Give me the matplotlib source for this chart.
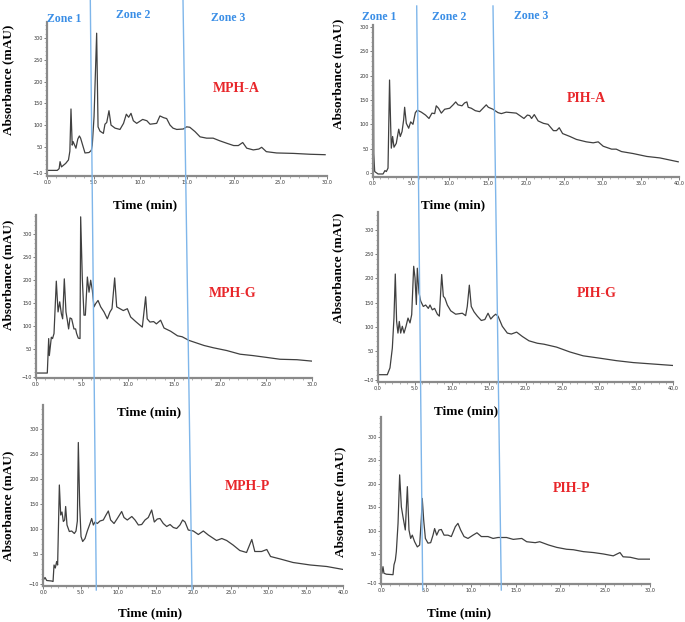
import matplotlib.pyplot as plt
from matplotlib.lines import Line2D
from matplotlib.ticker import MultipleLocator

# chromatogram traces, (time min, absorbance mAU)
mph_a = [(0, -4), (1.1, -4), (1.3, 0), (1.4, 16), (1.55, 4), (2.0, 12), (2.3, 20),
         (2.45, 40), (2.57, 137), (2.7, 54), (2.8, 62), (3.1, 47), (3.3, 68), (3.47, 75),
         (3.6, 70), (4.07, 36), (4.5, 37), (4.75, 42), (4.85, 54), (5.04, 119), (5.32, 311),
         (5.47, 96), (5.68, 86), (6.04, 81), (6.21, 102), (6.4, 106), (6.64, 133), (6.86, 100),
         (7.29, 93), (7.82, 90), (8.2, 104), (8.5, 125), (8.75, 118), (9.0, 127), (9.25, 110),
         (9.61, 104), (10.25, 113), (10.7, 110), (11.04, 102), (11.75, 104), (12.1, 121),
         (12.5, 117), (12.82, 115), (13.18, 100), (13.5, 93), (13.9, 90), (14.6, 91),
         (14.96, 96), (15.3, 95), (15.86, 85), (16.4, 73), (17.1, 70), (17.8, 70), (18.5, 64),
         (19.3, 58), (20.0, 53), (20.5, 53), (20.97, 60), (21.4, 47), (22.1, 43), (22.7, 45),
         (23.0, 49), (23.5, 39), (24.6, 36), (26.4, 35), (28.2, 33), (29.8, 32)]

pih_a = [(0.0, 2), (0.08, 300), (0.14, 40), (0.2, 20), (0.26, 3), (0.7, -2), (1.35, -2),
         (1.6, 5), (1.78, 3), (2.0, 10), (2.2, 191), (2.35, 95), (2.43, 51), (2.6, 75),
         (2.78, 53), (3.08, 61), (3.4, 90), (3.6, 75), (3.83, 85), (4.04, 109), (4.17, 135),
         (4.39, 102), (4.7, 92), (4.96, 105), (5.26, 100), (5.57, 124), (5.83, 129),
         (6.35, 125), (6.9, 119), (7.35, 112), (7.74, 123), (8.09, 122), (8.3, 138), (8.6, 133),
         (8.96, 123), (9.4, 131), (10.05, 133), (10.5, 140), (10.84, 146), (11.14, 140),
         (11.66, 138), (12.0, 144), (12.3, 146), (12.47, 135), (12.88, 133), (13.4, 128),
         (13.97, 126), (14.4, 133), (14.83, 140), (15.1, 135), (15.7, 131), (16.36, 124),
         (16.8, 122), (17.44, 125), (18.1, 124), (18.75, 123), (19.3, 117), (19.75, 112),
         (20.2, 119), (20.5, 118), (20.75, 112), (21.1, 120), (21.6, 107), (22.3, 102),
         (22.9, 100), (23.6, 87), (24.0, 87), (24.36, 93), (24.8, 81), (25.76, 75), (26.6, 69),
         (27.9, 64), (28.8, 62), (29.45, 64), (30.1, 55), (31.2, 49), (31.8, 49), (32.5, 44),
         (34.0, 40), (35.8, 34), (37.5, 31), (39.9, 23)]

mph_g = [(0, -2), (1.23, -2), (1.38, 73), (1.45, 36), (1.67, 76), (1.8, 73), (1.96, 84),
         (2.21, 198), (2.4, 131), (2.58, 153), (2.76, 127), (2.9, 116), (3.08, 203),
         (3.26, 131), (3.41, 113), (3.55, 94), (3.7, 118), (3.88, 116), (4.13, 94), (4.31, 94),
         (4.42, 84), (4.6, 74), (4.79, 73), (4.86, 338), (5.04, 203), (5.22, 124), (5.37, 124),
         (5.59, 207), (5.77, 174), (5.95, 200), (6.13, 178), (6.31, 142), (6.49, 149),
         (6.75, 156), (7.04, 142), (7.4, 131), (7.76, 116), (8.05, 131), (8.27, 138),
         (8.56, 205), (8.78, 142), (9.14, 138), (9.5, 134), (9.94, 138), (10.3, 120),
         (10.85, 110), (11.32, 102), (11.57, 98), (11.75, 131), (11.93, 164), (12.1, 116),
         (12.4, 109), (12.8, 110), (13.1, 105), (13.56, 113), (13.93, 96), (14.65, 89),
         (15.4, 79), (15.9, 77), (16.65, 69), (18.28, 58), (19.3, 53), (20.75, 47), (22.2, 39),
         (23.6, 36), (25.1, 32), (26.55, 28), (28.4, 27), (30.0, 24)]

pih_g = [(0, 1), (1.3, 1), (1.66, 15), (1.98, 56), (2.2, 118), (2.38, 209), (2.56, 111),
         (2.74, 87), (2.92, 111), (3.11, 87), (3.33, 101), (3.56, 87), (3.83, 101), (4.1, 118),
         (4.37, 108), (4.6, 125), (4.87, 225), (5.05, 201), (5.23, 146), (5.36, 221),
         (5.59, 170), (5.82, 153), (6.17, 142), (6.49, 145), (6.85, 138), (7.08, 145),
         (7.39, 135), (7.7, 138), (8.07, 126), (8.34, 122), (8.66, 208), (8.88, 163),
         (9.1, 159), (9.42, 145), (9.88, 133), (10.55, 126), (11.45, 128), (11.9, 123),
         (12.12, 142), (12.4, 186), (12.66, 142), (13.03, 131), (13.48, 122), (14.02, 113),
         (14.5, 115), (14.93, 128), (15.3, 116), (15.65, 122), (15.97, 126), (16.28, 122),
         (16.86, 101), (17.54, 87), (18.08, 85), (18.8, 89), (19.57, 80), (20.47, 71),
         (21.6, 66), (22.5, 64), (24.2, 58), (26.0, 48), (27.8, 40), (30.1, 35), (32.3, 30),
         (34.6, 26), (37.3, 23), (40.0, 20)]

mph_p = [(0, -2), (0.23, 3), (0.45, -3), (1.1, -4), (1.3, -5), (1.43, 28), (1.6, 22),
         (1.78, 35), (1.91, 28), (2.14, 188), (2.32, 128), (2.49, 134), (2.67, 115),
         (2.85, 118), (2.98, 145), (3.16, 108), (3.47, 95), (3.78, 96), (4.14, 91), (4.36, 96),
         (4.54, 116), (4.67, 273), (4.85, 148), (5.03, 85), (5.25, 75), (5.56, 81), (5.87, 96),
         (6.23, 111), (6.45, 121), (6.67, 108), (6.9, 114), (7.2, 111), (7.56, 116), (8.0, 118),
         (8.36, 128), (8.67, 136), (8.98, 118), (9.43, 111), (9.87, 121), (10.45, 135),
         (10.76, 123), (11.2, 118), (11.8, 125), (12.23, 118), (12.68, 108), (13.12, 109),
         (13.56, 118), (14.0, 123), (14.45, 138), (14.8, 114), (15.2, 120), (15.56, 121),
         (16.0, 111), (16.45, 105), (16.9, 109), (17.34, 103), (17.78, 101), (18.22, 108),
         (18.58, 118), (18.9, 114), (19.33, 98), (20.0, 96), (20.67, 89), (21.34, 96),
         (22.0, 88), (23.1, 77), (23.8, 81), (24.45, 77), (25.3, 68), (26.2, 57), (27.1, 53),
         (27.8, 79), (28.2, 55), (29.1, 55), (29.8, 59), (30.3, 45), (31.6, 40), (33.3, 33),
         (35.6, 28), (37.8, 25), (40.0, 19)]

pih_p = [(0.0, 12), (0.11, 10), (0.22, 24), (0.33, 10), (0.6, 8), (1.34, 7), (1.45, 28),
         (1.6, 38), (1.71, 56), (1.9, 116), (2.08, 219), (2.27, 151), (2.45, 130), (2.71, 102),
         (2.94, 194), (3.12, 102), (3.31, 84), (3.49, 91), (3.75, 77), (4.05, 66), (4.31, 70),
         (4.5, 127), (4.6, 169), (4.76, 123), (4.95, 84), (5.24, 74), (5.54, 75), (5.8, 91),
         (5.98, 105), (6.21, 91), (6.47, 102), (6.73, 103), (7.03, 91), (7.47, 91), (7.84, 88),
         (8.29, 109), (8.58, 116), (8.88, 102), (9.26, 88), (9.7, 84), (10.26, 91), (10.7, 96),
         (11.19, 88), (11.93, 88), (12.5, 84), (13.05, 86), (14.0, 86), (14.75, 82),
         (15.7, 84), (16.25, 77), (17.2, 75), (17.7, 77), (18.7, 70), (19.6, 65), (20.7, 61),
         (21.45, 60), (22.56, 56), (23.7, 54), (24.8, 51), (25.9, 47), (26.65, 54), (27.0, 45),
         (27.8, 44), (28.7, 40), (30.0, 40)]

sample_names = ["MPH-A", "PIH-A", "MPH-G", "PIH-G", "MPH-P", "PIH-P"]
zone_names = ["Zone 1", "Zone 2", "Zone 3"]
yticks_std = [-10, 50, 100, 150, 200, 250, 300]
yticks_zero = [0, 50, 100, 150, 200, 250, 300]

W, H = 685, 622
SERIF = "Liberation Serif"
fig = plt.figure(figsize=(W / 100, H / 100), dpi=100)


def fx(px):
    return px / W


def fy(py):
    return 1 - py / H


def panel(data, box, xmax, ylim, yticks, sep):
    l, r, t, b = box
    ax = fig.add_axes([fx(l), fy(b), (r - l) / W, (b - t) / H])
    ax.set_facecolor("none")
    ax.plot([p[0] for p in data], [p[1] for p in data], color="#404040", lw=0.9)
    ax.set_xlim(0, xmax)
    ax.set_ylim(*ylim)
    xt = list(range(0, xmax + 1, 5))
    ax.set_xticks(xt)
    ax.set_xticklabels([f"{x:.1f}".replace(".", sep) for x in xt])
    ax.set_yticks(yticks)
    ax.xaxis.set_minor_locator(MultipleLocator(1))
    ax.yaxis.set_minor_locator(MultipleLocator(10))
    for s in ["top", "right"]:
        ax.spines[s].set_visible(False)
    for s in ["left", "bottom"]:
        ax.spines[s].set_color("#8a8a8a")
        ax.spines[s].set_linewidth(1.6)
    ax.tick_params(which="major", length=2, width=0.6, color="#666666",
                   labelsize=3.5, pad=1, labelcolor="#333333")
    ax.tick_params(which="minor", length=1.2, width=0.4, color="#777777")
    return ax


# panels: data, pixel box (left, right, top, bottom), xmax, ylim, yticks, decimal sign
panel(mph_a, (47, 327, 22, 176), 30, (-16.9, 336.7), yticks_std, ".")
panel(pih_a, (372.7, 679, 25, 177), 40, (-8.2, 304), yticks_zero, ",")
panel(mph_g, (36, 311.7, 215, 378), 30, (-12.8, 342), yticks_std, ".")
panel(pih_g, (377.7, 673.3, 211.7, 382), 40, (-14.1, 337.8), yticks_std, ",")
panel(mph_p, (43.3, 343.3, 405, 586), 40, (-14, 348), yticks_std, ",")
panel(pih_p, (381, 650, 417, 584), 30, (-12.8, 342), yticks_std, ",")

# zone separators crossing the whole column
zone_lines = [((90.3, 0), (96.3, 590)), ((183, 0), (192, 590)),
              ((416.7, 6), (422.7, 590)), ((493, 6), (501.3, 590))]
for (x0, y0), (x1, y1) in zone_lines:
    fig.lines.append(Line2D([fx(x0), fx(x1)], [fy(y0), fy(y1)], transform=fig.transFigure,
                            color="#7fb6ea", lw=1.0, zorder=5))

zone_pos = [(64, 19), (133, 15), (228, 18), (379, 17), (449, 17), (531, 16)]
for i, (x, y) in enumerate(zone_pos):
    fig.text(fx(x), fy(y), zone_names[i % 3], ha="center", va="center", color="#3a8ee6",
             fontsize=8.5, fontweight="bold", family=SERIF, zorder=6)

name_pos = [(236, 89), (586, 99), (233, 294), (597, 294), (247, 487), (572, 489)]
for name, (x, y) in zip(sample_names, name_pos):
    fig.text(fx(x), fy(y), name, ha="center", va="center", color="#e8262a",
             fontsize=10, fontweight="bold", family=SERIF)

xlabel_pos = [(145, 205), (453, 205), (149, 412), (466, 411), (150, 613), (459, 613)]
for x, y in xlabel_pos:
    fig.text(fx(x), fy(y), "Time (min)", ha="center", va="center", color="black",
             fontsize=9.5, fontweight="bold", family=SERIF)

ylabel_pos = [(8, 80), (338, 74), (8, 275), (338, 268), (8, 506), (340, 502)]
for x, y in ylabel_pos:
    fig.text(fx(x), fy(y), "Absorbance (mAU)", ha="center", va="center", rotation=90,
             color="black", fontsize=9.5, fontweight="bold", family=SERIF)

fig.savefig("out.png", dpi=100)
